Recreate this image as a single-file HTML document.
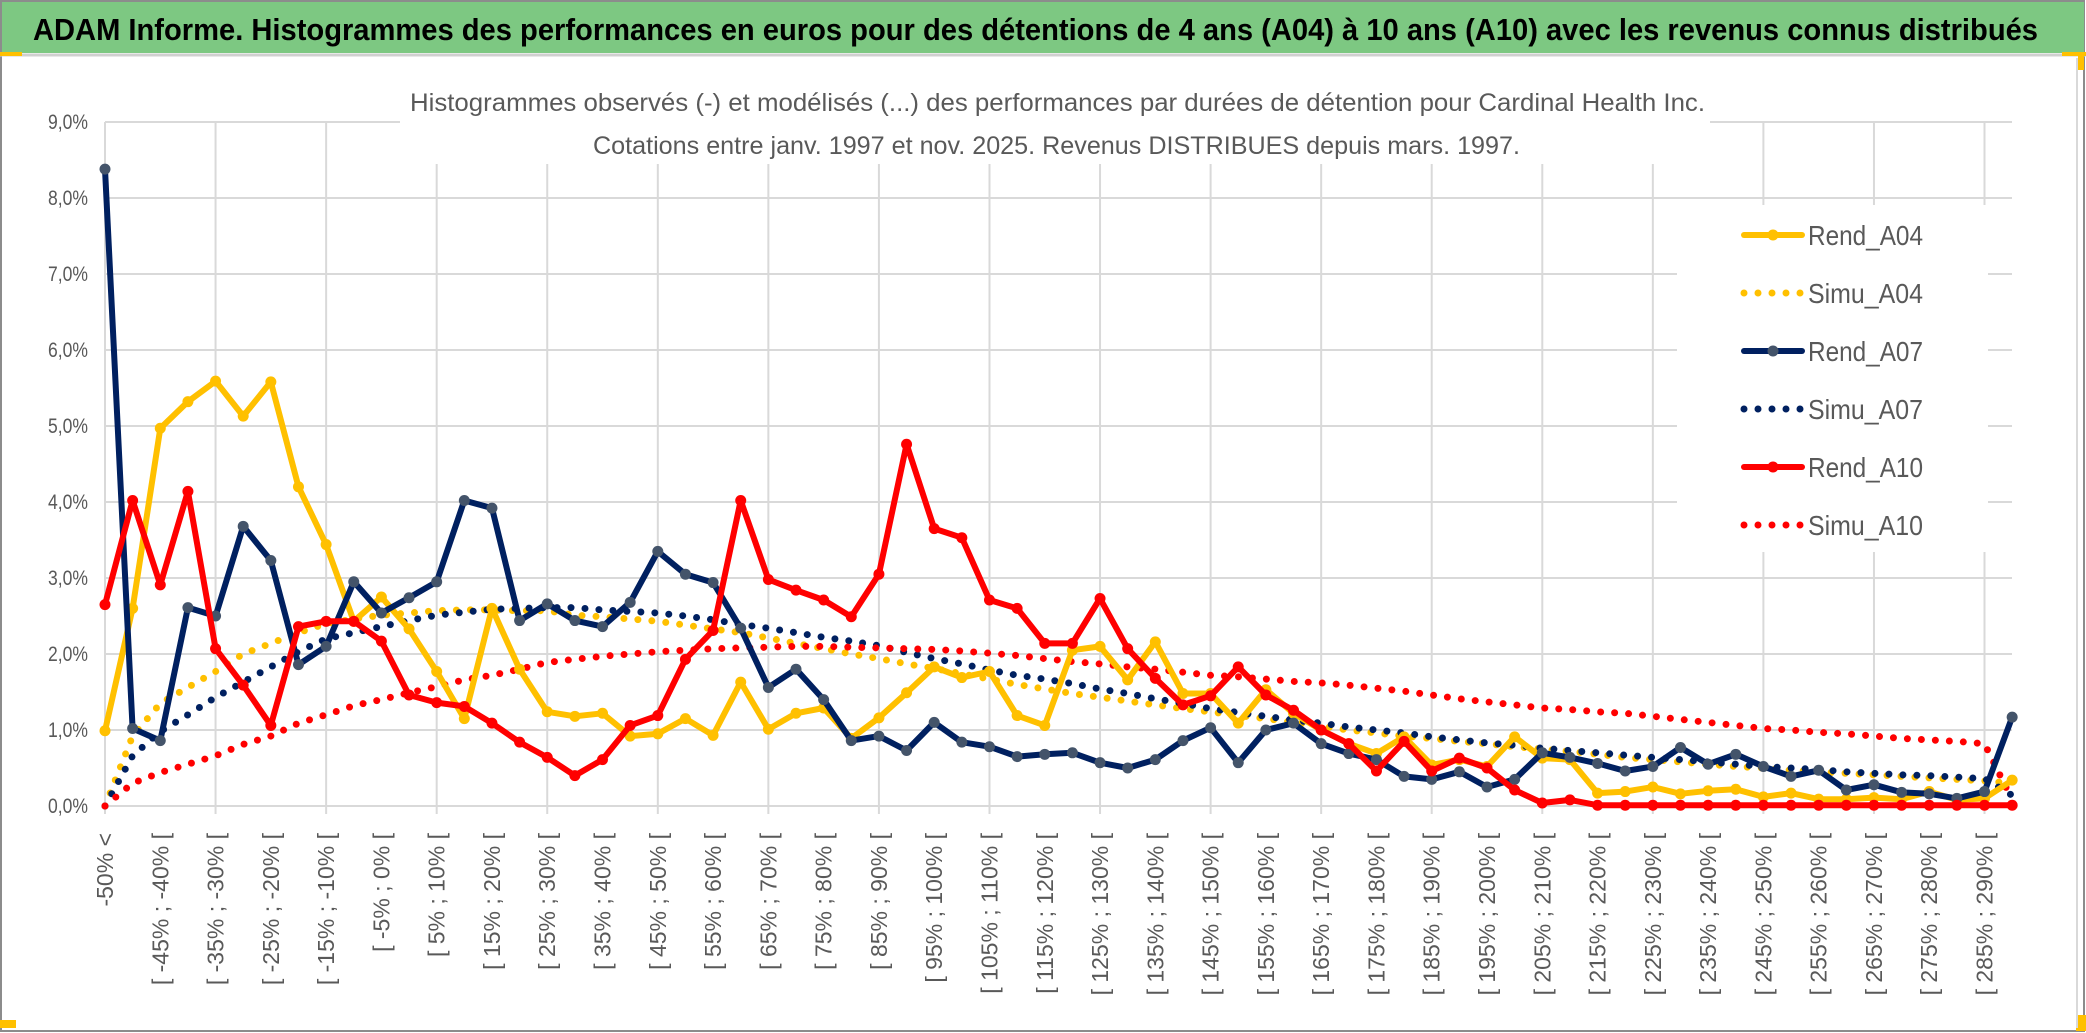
<!DOCTYPE html>
<html><head><meta charset="utf-8">
<style>
html,body{margin:0;padding:0;background:#fff;}
svg{display:block;}
text{font-family:"Liberation Sans",sans-serif;}
</style></head>
<body>
<svg id="chart" xmlns="http://www.w3.org/2000/svg" width="2086" height="1033" viewBox="0 0 2086 1033">
  <rect x="0" y="0" width="2086" height="1033" fill="#ffffff"/>
  <rect x="1" y="1" width="2083" height="1030" fill="none" stroke="#8c8c8c" stroke-width="2"/>
  <rect x="2" y="2" width="2082" height="51" fill="#7dc882"/>
  <line x1="0" y1="55" x2="2086" y2="55" stroke="#d0d0d0" stroke-width="3"/>
  <rect x="0" y="52" width="22" height="4" fill="#ffc000"/>
  <rect x="2062" y="52" width="24" height="4" fill="#ffc000"/>
  <rect x="2078" y="52" width="6" height="18" fill="#ffc000"/>
  <rect x="2076" y="1015" width="10" height="16" fill="#ffc000"/>
  <rect x="0" y="1020" width="16" height="8" fill="#ffc000"/>
  <text x="33" y="40" font-size="31" font-weight="bold" fill="#000" textLength="2005" lengthAdjust="spacingAndGlyphs">ADAM Informe. Histogrammes des performances en euros pour des détentions de 4 ans (A04) à 10 ans (A10) avec les revenus connus distribués</text>
  <line x1="2077" y1="58" x2="2077" y2="1028" stroke="#d9d9d9" stroke-width="2"/>
  <g id="grid"></g>
  <g id="ylabels"></g>
  <g id="xlabels"></g>
  <rect x="400" y="72" width="1310" height="92" fill="#ffffff"/>
  <text x="410" y="111" font-size="25" fill="#595959" textLength="1295" lengthAdjust="spacingAndGlyphs">Histogrammes observés (-) et modélisés (...) des performances par durées de détention pour Cardinal Health Inc.</text>
  <text x="593" y="154" font-size="25" fill="#595959" textLength="927" lengthAdjust="spacingAndGlyphs">Cotations entre janv. 1997 et nov. 2025. Revenus DISTRIBUES depuis mars. 1997.</text>
  <g id="series"></g>
  <rect x="1677" y="205" width="311" height="347" fill="#ffffff"/>
  <g id="legend"></g>
</svg>
<script>
const categoriesStart = -50;
const categoriesStep = 5;
const categoryCount = 70;
const categories = [];
for (let i = 0; i < categoryCount; i++) {
  if (i === 0) categories.push("-50% <");
  else {
    const lo = categoriesStart + categoriesStep * (i - 1);
    categories.push("[ " + lo + "% ; " + (lo + categoriesStep) + "% [");
  }
}
const yTicks = [0,1,2,3,4,5,6,7,8,9];
const yTickLabels = ["0,0%","1,0%","2,0%","3,0%","4,0%","5,0%","6,0%","7,0%","8,0%","9,0%"];

const rendA04 = [0.99,2.6,4.97,5.32,5.59,5.13,5.58,4.2,3.44,2.43,2.75,2.33,1.77,1.15,2.6,1.8,1.24,1.18,
  1.22,0.92,0.95,1.15,0.93,1.63,1.01,1.22,1.29,0.89,1.16,1.49,1.83,1.69,1.77,1.19,1.06,2.05,
  2.10,1.66,2.16,1.48,1.48,1.09,1.53,1.22,1.0,0.82,0.69,0.91,0.54,0.61,0.52,0.91,0.63,
  0.61,0.17,0.19,0.25,0.16,0.20,0.22,0.12,0.17,0.09,0.09,0.11,0.09,0.19,0.08,0.10,0.34];
const rendA07 = [8.38,1.02,0.86,2.61,2.5,3.68,3.23,1.86,2.1,2.95,2.54,2.74,2.95,4.02,3.92,2.44,2.66,2.44,
  2.36,2.68,3.35,3.05,2.94,2.34,1.56,1.80,1.40,0.86,0.92,0.73,1.10,0.84,0.78,0.65,0.68,0.70,
  0.57,0.50,0.61,0.86,1.03,0.57,1.0,1.09,0.82,0.69,0.61,0.39,0.35,0.45,0.25,0.35,0.70,
  0.64,0.56,0.46,0.52,0.77,0.55,0.68,0.52,0.39,0.47,0.21,0.28,0.18,0.16,0.10,0.19,1.17];
const rendA10 = [2.65,4.02,2.91,4.14,2.07,1.59,1.06,2.36,2.43,2.43,2.17,1.46,1.36,1.31,1.09,0.84,0.64,0.40,
  0.61,1.06,1.19,1.93,2.31,4.02,2.98,2.84,2.71,2.49,3.05,4.76,3.65,3.53,2.71,2.6,2.14,2.14,
  2.73,2.07,1.68,1.33,1.45,1.83,1.46,1.26,1.0,0.82,0.46,0.85,0.46,0.63,0.50,0.21,0.04,
  0.08,0.01,0.01,0.01,0.01,0.01,0.01,0.01,0.01,0.01,0.01,0.01,0.01,0.01,0.01,0.01,0.01];
const simuA04 = [0,0.92,1.35,1.56,1.77,2.0,2.14,2.28,2.40,2.46,2.51,2.54,2.57,2.58,2.58,2.57,2.57,2.51,2.49,2.46,
  2.43,2.38,2.33,2.28,2.21,2.14,2.07,2.00,1.94,1.87,1.81,1.74,1.67,1.60,1.54,1.48,1.43,1.38,1.33,1.28,
  1.24,1.19,1.15,1.10,1.05,1.00,0.96,0.92,0.89,0.85,0.82,0.78,0.75,0.72,0.68,0.64,0.61,0.58,0.55,0.52,
  0.50,0.47,0.45,0.43,0.41,0.39,0.37,0.35,0.33,0.30];
const simuA07 = [0,0.66,0.98,1.2,1.43,1.63,1.83,2.03,2.2,2.28,2.36,2.44,2.51,2.55,2.59,2.60,2.61,2.61,2.58,2.56,
  2.54,2.50,2.45,2.39,2.34,2.28,2.22,2.17,2.11,2.02,1.94,1.87,1.79,1.72,1.67,1.61,1.54,1.48,1.41,1.35,
  1.28,1.23,1.18,1.13,1.09,1.04,1.00,0.96,0.91,0.87,0.83,0.80,0.76,0.73,0.70,0.67,0.64,0.61,0.58,0.55,
  0.52,0.50,0.48,0.45,0.43,0.41,0.40,0.38,0.36,0.14];
const simuA10 = [0,0.30,0.44,0.55,0.66,0.81,0.92,1.09,1.2,1.32,1.4,1.49,1.57,1.66,1.72,1.8,1.89,1.93,1.97,2.0,
  2.03,2.05,2.07,2.08,2.09,2.10,2.10,2.09,2.08,2.07,2.06,2.04,2.01,1.98,1.94,1.90,1.87,1.83,1.80,1.76,
  1.72,1.70,1.67,1.64,1.62,1.59,1.55,1.51,1.46,1.41,1.37,1.33,1.29,1.27,1.24,1.22,1.18,1.14,1.10,1.06,
  1.02,1.0,0.97,0.95,0.92,0.89,0.87,0.85,0.82,0.08];
const seriesNames = ["Rend_A04","Simu_A04","Rend_A07","Simu_A07","Rend_A10","Simu_A10"];

const NS = "http://www.w3.org/2000/svg";
const X0 = 105, XSTEP = 27.64, Y0 = 806, YUNIT = 76, XRIGHT = 2012;
function xPos(i){ return X0 + XSTEP * i; }
function yPos(v){ return Y0 - YUNIT * v; }
function mk(tag, attrs, parent){
  const e = document.createElementNS(NS, tag);
  for (const k in attrs) e.setAttribute(k, attrs[k]);
  parent.appendChild(e);
  return e;
}
const grid = document.getElementById("grid");
yTicks.forEach((t, k) => {
  const l = mk("line", {x1: X0, x2: XRIGHT, y1: yPos(t), y2: yPos(t), stroke: "#d9d9d9", "stroke-width": 2}, grid);
  
  
  const tx = mk("text", {x: 88, y: yPos(t) + 7, "font-size": 21, fill: "#595959", "text-anchor": "end", textLength: 40, lengthAdjust: "spacingAndGlyphs"}, document.getElementById("ylabels"));
  tx.textContent = yTickLabels[k];
  
  
});
for (let i = 0; i < categories.length; i += 4) {
  const l = mk("line", {x1: xPos(i), x2: xPos(i), y1: yPos(9), y2: Y0 + 8, stroke: "#d9d9d9", "stroke-width": 2}, grid);
  
  
}
const xl = document.getElementById("xlabels");
for (let i = 0; i < categories.length; i += 2) {
  const x = xPos(i) + 8, y = 833;
  const t = mk("text", {x: x, y: y, "font-size": 23, fill: "#595959", "text-anchor": "end", transform: "rotate(-90 " + x + " " + y + ")"}, xl);
  t.textContent = categories[i];
  
  
}
const sg = document.getElementById("series");
function pts(arr){ return arr.map((v, i) => xPos(i).toFixed(1) + "," + yPos(v).toFixed(1)).join(" "); }
function dotted(arr, color, name){
  const p = mk("polyline", {points: pts(arr), fill: "none", stroke: color, "stroke-width": 7, "stroke-linecap": "round", "stroke-dasharray": "0 14"}, sg);
  
  
}
function solid(arr, color, marker, name){
  const p = mk("polyline", {points: pts(arr), fill: "none", stroke: color, "stroke-width": 6, "stroke-linejoin": "round"}, sg);
  
  
  arr.forEach((v, i) => {
    const c = mk("circle", {cx: xPos(i), cy: yPos(v), r: 5.5, fill: marker}, sg);
    
    
  });
}
dotted(simuA04, "#ffc000", "simu-a04-line");
dotted(simuA07, "#002060", "simu-a07-line");
dotted(simuA10, "#ff0000", "simu-a10-line");
solid(rendA04, "#ffc000", "#ffc000", "rend-a04-line");
solid(rendA07, "#002060", "#44546a", "rend-a07-line");
solid(rendA10, "#ff0000", "#ff0000", "rend-a10-line");

const lg = document.getElementById("legend");
const legColors = ["#ffc000","#ffc000","#002060","#002060","#ff0000","#ff0000"];
const legMarkers = ["#ffc000","#ffc000","#44546a","#44546a","#ff0000","#ff0000"];
seriesNames.forEach((n, k) => {
  const y = 235 + 58 * k;
  const g = mk("g", {}, lg);
  
  
  if (n.startsWith("Rend")) {
    mk("line", {x1: 1744, x2: 1802, y1: y, y2: y, stroke: legColors[k], "stroke-width": 6, "stroke-linecap": "round"}, g);
    mk("circle", {cx: 1773, cy: y, r: 5.5, fill: legMarkers[k]}, g);
  } else {
    mk("line", {x1: 1744, x2: 1802, y1: y, y2: y, stroke: legColors[k], "stroke-width": 7, "stroke-linecap": "round", "stroke-dasharray": "0 14"}, g);
  }
  const t = mk("text", {x: 1808, y: y + 10, "font-size": 28, fill: "#595959", textLength: 115, lengthAdjust: "spacingAndGlyphs"}, g);
  t.textContent = n;
});
</script>
</body></html>
